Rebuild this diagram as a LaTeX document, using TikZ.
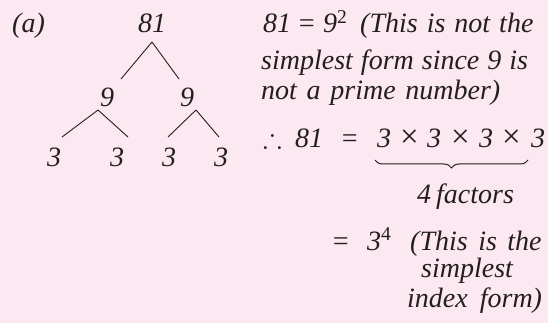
\documentclass[tikz,border=0pt]{standalone}
\usepackage{amssymb}
\usepackage{fontspec}
\setmainfont{Liberation Serif}
\usetikzlibrary{decorations.pathreplacing}
\definecolor{bg}{HTML}{FCE8F1}
\definecolor{ink}{HTML}{231F20}
\newcommand{\upsup}[1]{\textsuperscript{\upshape #1}}
\newcommand{\wsp}[1]{\spaceskip=#1pt plus 1pt minus 1pt\relax}
\begin{document}
\begin{tikzpicture}[x=1pt,y=-1pt,
  txt/.style={font=\fontsize{28}{32}\selectfont\itshape, inner sep=0pt, text=ink},
  lt/.style={txt, anchor=base west},
  nm/.style={txt, anchor=base},
  tms/.style={lt, font=\fontsize{33}{33}\selectfont\upshape},
  edge/.style={draw=ink, line width=0.9pt}]
\fill[bg] (0,0) rectangle (548,323);
\useasboundingbox (0,0) rectangle (548,323);
% label
\node[lt] (lab) at (12,33) {(a)};
% tree
\node[nm] (root) at (152,33) {81};
\node[nm] (l9) at (107,107) {9};
\node[nm] (r9) at (187,107) {9};
\node[nm] (t1) at (54,167) {3};
\node[nm] (t2) at (117,167) {3};
\node[nm] (t3) at (169,167) {3};
\node[nm] (t4) at (221,167) {3};
\draw[edge] ([shift={(0,9)}]root.base) -- ([shift={(14,-28)}]l9.base);
\draw[edge] ([shift={(0,9)}]root.base) -- ([shift={(-8,-28)}]r9.base);
\draw[edge] ([shift={(-9,3)}]l9.base) -- ([shift={(8,-30)}]t1.base);
\draw[edge] ([shift={(-9,3)}]l9.base) -- ([shift={(11,-30)}]t2.base);
\draw[edge] ([shift={(9,3)}]r9.base) -- ([shift={(-1,-30)}]t3.base);
\draw[edge] ([shift={(9,3)}]r9.base) -- ([shift={(-2,-30)}]t4.base);
% line 1
\node[lt] (a81) at (263,33) {81};
\node[lt] (aeq) at (297,33) {=};
\node[lt] (a9) at (323,33) {9\upsup{2}};
\node[lt] (l1) at (360,33) {\wsp{9}(This is not the};
% lines 2, 3
\node[lt] (l2) at (261,70) {\wsp{8}simplest form since 9 is};
\node[lt] (l3) at (261,100) {\wsp{9.7}not a prime number)};
% line 4
\node[lt] (th) at (263,148) {$\therefore$};
\node[lt] (e81) at (295,148) {81};
\node[lt] (eq1) at (340,148) {=};
\node[lt] (p1) at (377,148) {3};
\node[tms] (x1) at (400,148) {×};
\node[lt] (p2) at (427,148) {3};
\node[tms] (x2) at (451,148) {×};
\node[lt] (p3) at (479,148) {3};
\node[tms] (x3) at (502,148) {×};
\node[lt] (p4) at (531,148) {3};
\draw[ink, line width=1pt, decorate,
      decoration={brace, mirror, amplitude=8pt}]
  ([shift={(-2,12)}]p1.base west) -- ([shift={(-3,12)}]p4.base west);
\node[lt] (fac) at (417,203) {\wsp{5}4 factors};
% last lines
\node[lt] (eq2) at (331,250) {=};
\node[lt] (p34) at (367,250) {3\upsup{4}};
\node[lt] (c1) at (410,250) {\wsp{10.5}(This is the};
\node[lt] (c2) at (421,277) {simplest};
\node[lt] (c3) at (407,307) {\wsp{12}index form)};
\end{tikzpicture}
\end{document}
